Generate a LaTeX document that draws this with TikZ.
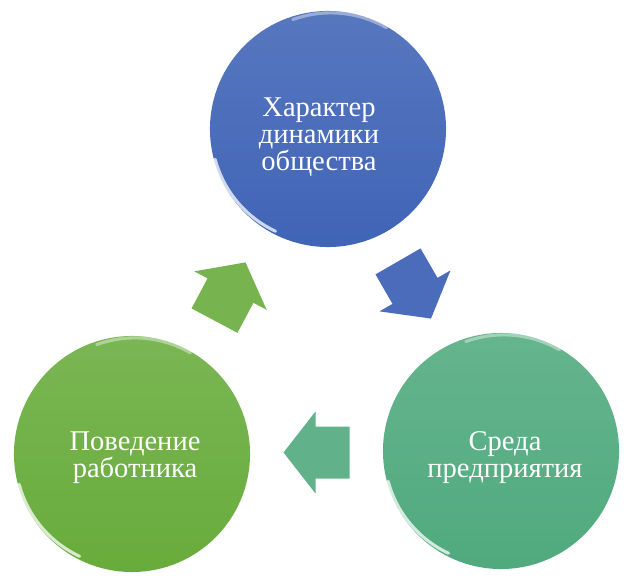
\documentclass[tikz,border=0pt]{standalone}
\usepackage{fontspec}
\setmainfont{Liberation Serif}
\usetikzlibrary{calc}
\definecolor{dynblue}{RGB}{64,100,182}
\definecolor{envteal}{RGB}{80,170,126}
\definecolor{workgreen}{RGB}{104,172,60}

\tikzset{
    flowarrow/.pic={
        \path[pic actions] (-33,-26) -- (1,-26) -- (1,-41) -- (33,0)
            -- (1,41) -- (1,26) -- (-33,26) -- cycle;
    }
}

\begin{document}
\begin{tikzpicture}[
    x=0.025cm, y=-0.025cm,
    bubble/.style={circle, minimum size=5.9cm, inner sep=0pt},
    caption/.style={text=white, align=center, inner sep=0pt,
                    font=\fontsize{20.3}{19.2}\selectfont},
    gloss/.style={white, line width=2.2pt, opacity=0.75, line cap=round}
]
\useasboundingbox (0,0) rectangle (624,577);

% three circles
\node[bubble, top color=dynblue!88!white, bottom color=dynblue] (dyn) at (328,129) {};
\node[bubble, top color=envteal!88!white, bottom color=envteal] (env) at (501,451) {};
\node[bubble, top color=workgreen!88!white, bottom color=workgreen] (work) at (132,454) {};

% shine on the rims
\foreach \c in {dyn, env, work} {
    \draw[gloss] ([shift={(195:4pt)}]\c.center) ++(195:2.78cm)
        arc[start angle=195, end angle=245, radius=2.78cm];
    \draw[gloss, opacity=0.4] ([shift={(60:4pt)}]\c.center) ++(60:2.78cm)
        arc[start angle=60, end angle=110, radius=2.78cm];
}

% texts
\node[caption] (dyntext)  at ($(dyn)+(-9,8)$)  {Характер\\динамики\\общества};
\node[caption] (envtext)  at ($(env)+(4,7)$)   {Среда\\предприятия};
\node[caption] (worktext) at ($(work)+(3,4)$)  {Поведение\\работника};

% block arrows between the circles
\coordinate (a1) at ($(dyn)!0.5!(env)$);
\coordinate (a2) at ($(env)!0.5!(work)$);
\coordinate (a3) at ($(work)!0.5!(dyn)$);
\pic[rotate=-60, fill=dynblue!95!white] at (a1) {flowarrow};
\pic[rotate=180, fill=envteal!90!white] at (a2) {flowarrow};
\pic[rotate=62, fill=workgreen!90!white] at (a3) {flowarrow};
\end{tikzpicture}
\end{document}
